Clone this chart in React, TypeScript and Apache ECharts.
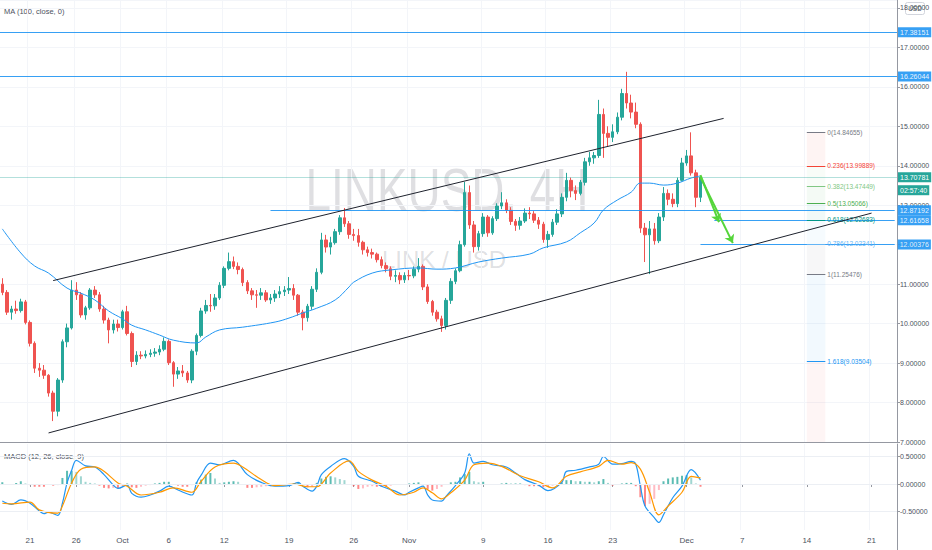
import React, { useRef, useEffect } from 'react'
import * as echarts from 'echarts'

// 12h slots starting 2020-09-18 00:00 (UTC)
const SLOT_START = Date.UTC(2020, 8, 18)
const SLOT_COUNT = 194
const LAST_SLOT = SLOT_COUNT - 1

const slotLabels: string[] = []
for (let i = 0; i < SLOT_COUNT; i++) {
  const d = new Date(SLOT_START + i * 43200000)
  slotLabels.push(d.toISOString().slice(0, 10) + (i % 2 ? ' 12' : ' 00'))
}

const dateTicks: [string, string][] = [
  ['2020-09-21', '21'], ['2020-09-26', '26'], ['2020-10-01', 'Oct'], ['2020-10-06', '6'],
  ['2020-10-12', '12'], ['2020-10-19', '19'], ['2020-10-26', '26'], ['2020-11-01', 'Nov'],
  ['2020-11-09', '9'], ['2020-11-16', '16'], ['2020-11-23', '23'], ['2020-12-01', 'Dec'],
  ['2020-12-07', '7'], ['2020-12-14', '14'], ['2020-12-21', '21']
]

const priceTicks = [7, 8, 9, 10, 11, 12, 13, 14, 15, 16, 17, 18]
const macdTicks = [-0.5, 0, 0.5]

// [open, close, low, high]
const candles: number[][] = [
  [11.00, 10.79, 10.72, 11.15], [10.79, 10.29, 10.22, 10.85], [10.29, 10.37, 10.10, 10.45], [10.37, 10.33, 10.25, 10.58],
  [10.33, 10.55, 10.28, 10.63], [10.55, 10.03, 9.98, 10.60], [10.03, 9.50, 9.42, 10.08], [9.50, 8.87, 8.75, 9.55],
  [8.87, 8.82, 8.65, 9.00], [8.82, 8.69, 8.60, 8.95], [8.69, 8.24, 8.15, 8.72], [8.24, 7.78, 7.53, 8.30],
  [7.78, 8.57, 7.65, 8.62], [8.57, 9.54, 8.50, 9.60], [9.54, 9.89, 9.40, 10.00], [9.89, 10.85, 9.85, 11.10],
  [10.85, 10.73, 10.60, 11.05], [10.73, 10.22, 10.15, 10.80], [10.22, 10.40, 10.10, 10.45], [10.40, 10.85, 10.35, 10.90],
  [10.85, 10.73, 10.65, 10.95], [10.73, 10.37, 10.30, 10.80], [10.37, 10.09, 10.00, 10.45], [10.09, 9.84, 9.50, 10.15],
  [9.84, 9.99, 9.75, 10.10], [9.99, 9.90, 9.80, 10.10], [9.90, 10.30, 9.85, 10.35], [10.30, 9.75, 9.70, 10.45],
  [9.75, 9.04, 8.90, 9.80], [9.04, 9.20, 8.95, 9.30], [9.20, 9.18, 9.10, 9.30], [9.18, 9.22, 9.12, 9.32],
  [9.22, 9.25, 9.15, 9.35], [9.25, 9.28, 9.16, 9.38], [9.28, 9.35, 9.20, 9.45], [9.35, 9.55, 9.30, 9.65],
  [9.55, 9.01, 8.95, 9.60], [9.01, 8.72, 8.40, 9.05], [8.72, 8.80, 8.60, 8.90], [8.80, 8.75, 8.65, 8.95],
  [8.75, 8.57, 8.50, 8.80], [8.57, 9.30, 8.49, 9.35], [9.30, 9.70, 9.20, 9.75], [9.70, 10.32, 9.65, 10.40],
  [10.32, 10.46, 10.25, 10.60], [10.46, 10.45, 10.30, 10.75], [10.45, 10.65, 10.35, 10.75], [10.65, 10.97, 10.60, 11.05],
  [10.97, 11.40, 10.90, 11.45], [11.40, 11.57, 11.35, 11.80], [11.57, 11.45, 11.38, 11.70], [11.45, 11.37, 11.25, 11.55],
  [11.37, 11.04, 10.95, 11.42], [11.04, 10.83, 10.75, 11.10], [10.83, 10.73, 10.60, 10.90], [10.73, 10.72, 10.40, 10.85],
  [10.72, 10.78, 10.60, 10.90], [10.78, 10.60, 10.55, 10.85], [10.60, 10.65, 10.50, 10.75], [10.65, 10.75, 10.55, 10.85],
  [10.75, 10.81, 10.65, 10.95], [10.81, 10.85, 10.70, 10.95], [10.85, 10.89, 10.75, 11.18], [10.89, 10.72, 10.60, 11.00],
  [10.72, 10.29, 10.20, 10.75], [10.29, 10.15, 9.83, 10.35], [10.15, 10.44, 10.05, 10.50], [10.44, 10.87, 10.35, 10.95],
  [10.87, 11.30, 10.80, 11.40], [11.30, 12.12, 11.25, 12.30], [12.12, 11.94, 11.80, 12.25], [11.94, 12.05, 11.75, 12.20],
  [12.05, 12.33, 12.00, 12.40], [12.33, 12.68, 12.25, 12.75], [12.68, 12.53, 12.45, 12.93], [12.53, 12.26, 12.15, 12.60],
  [12.26, 12.23, 12.10, 12.40], [12.23, 12.06, 11.95, 12.40], [12.06, 11.87, 11.75, 12.10], [11.87, 11.80, 11.70, 11.95],
  [11.80, 11.76, 11.65, 11.90], [11.76, 11.62, 11.55, 11.80], [11.62, 11.47, 11.40, 11.70], [11.47, 11.39, 11.30, 11.55],
  [11.39, 11.20, 11.10, 11.45], [11.20, 11.22, 11.05, 11.35], [11.22, 11.11, 11.00, 11.30], [11.11, 11.22, 11.03, 11.30],
  [11.22, 11.21, 11.10, 11.36], [11.21, 11.38, 11.15, 11.45], [11.38, 11.45, 11.30, 11.66], [11.45, 10.93, 10.85, 11.50],
  [10.93, 10.56, 10.50, 11.00], [10.56, 10.29, 10.20, 10.60], [10.29, 10.12, 10.05, 10.35], [10.12, 9.95, 9.79, 10.20],
  [9.95, 10.59, 9.85, 10.65], [10.59, 11.07, 10.50, 11.15], [11.07, 11.34, 11.00, 11.40], [11.34, 12.00, 11.30, 12.10],
  [12.00, 13.32, 11.95, 13.59], [13.32, 12.50, 12.40, 13.50], [12.50, 11.95, 11.80, 12.60], [11.95, 12.28, 11.85, 12.35],
  [12.28, 12.70, 12.20, 12.80], [12.70, 12.30, 12.20, 12.75], [12.30, 12.66, 12.25, 12.72], [12.66, 12.98, 12.60, 13.05],
  [12.98, 13.06, 12.90, 13.33], [13.06, 12.87, 12.80, 13.15], [12.87, 12.59, 12.50, 12.95], [12.59, 12.49, 12.35, 12.65],
  [12.49, 12.60, 12.38, 12.70], [12.60, 12.80, 12.55, 12.92], [12.80, 12.78, 12.65, 12.95], [12.78, 12.62, 12.55, 12.85],
  [12.62, 12.52, 12.40, 12.70], [12.52, 12.13, 12.05, 12.58], [12.13, 12.26, 11.92, 12.35], [12.26, 12.57, 12.20, 12.65],
  [12.57, 12.78, 12.50, 12.90], [12.78, 13.20, 12.70, 13.30], [13.20, 13.63, 13.10, 13.82], [13.63, 13.37, 13.20, 13.70],
  [13.37, 13.30, 13.13, 13.50], [13.30, 13.58, 13.25, 13.64], [13.58, 14.10, 13.50, 14.20], [14.10, 14.20, 14.00, 14.35],
  [14.20, 14.26, 14.05, 14.35], [14.26, 15.30, 14.20, 15.67], [15.30, 14.82, 14.20, 15.45], [14.82, 14.72, 14.50, 15.00],
  [14.72, 14.86, 14.60, 15.05], [14.86, 15.23, 14.80, 15.35], [15.23, 15.83, 15.15, 15.95], [15.83, 15.59, 15.45, 16.38],
  [15.59, 15.36, 15.20, 15.80], [15.36, 15.05, 14.95, 15.60], [15.05, 12.42, 12.30, 15.10], [12.42, 12.25, 11.56, 12.55],
  [12.25, 12.40, 11.25476, 12.60], [12.40, 12.10, 12.00, 12.55], [12.10, 12.70, 12.04, 12.80], [12.70, 13.30, 12.60, 13.46],
  [13.30, 13.15, 13.00, 13.40], [13.15, 13.04, 12.95, 13.30], [13.04, 13.63, 12.95, 13.70], [13.63, 14.07, 13.60, 14.20],
  [14.07, 14.25, 14.00, 14.40], [14.25, 13.82, 13.75, 14.84655], [13.82, 13.20, 12.95, 13.90], [13.20, 13.70781, 13.08, 13.75]
]

// MA(100) read at [slot, value]
const ma100: number[][] = [
  [0, 12.40], [4, 11.79], [7, 11.46], [10, 11.28], [14, 10.90], [17, 10.77], [20, 10.60], [23, 10.32],
  [26, 10.12], [28, 9.96], [31, 9.84], [34, 9.71], [37, 9.58], [42, 9.51], [44, 9.66], [47, 9.84],
  [52, 9.91], [59, 10.04], [62, 10.14], [65, 10.27], [68, 10.39], [72, 10.60], [75, 10.93], [76, 11.05],
  [80, 11.28], [84, 11.36], [90, 11.41], [94, 11.38], [98, 11.41], [103, 11.56], [108, 11.66], [114, 11.76],
  [117, 11.92], [122, 12.07], [125, 12.30], [128, 12.55], [130, 12.88], [133, 13.13], [136, 13.33], [138, 13.56],
  [140, 13.56], [143, 13.51], [146, 13.56], [149, 13.69], [151, 13.74]
]

const channelUpper: number[][] = [[11, 11.09], [156, 15.2]]
const channelLower: number[][] = [[10, 7.23], [188, 12.8]]

// horizontal levels drawn on the chart, from = first slot (null = whole width)
const hLevels: { price: number; from: number | null }[] = [
  { price: 17.38151, from: null },
  { price: 16.26044, from: null },
  { price: 12.87192, from: 58 },
  { price: 12.61658, from: 154 },
  { price: 12.00376, from: 151 }
]
const lastPrice = 13.70781
const countdown = '02:57:40'
const countdownPrice = 13.378

const fibFrom = 174
const fibTo = 178
const fibLevels: { ratio: string; price: number; color: string }[] = [
  { ratio: '0', price: 14.84655, color: '#787b86' },
  { ratio: '0.236', price: 13.99889, color: '#f44336' },
  { ratio: '0.382', price: 13.47449, color: '#81c784' },
  { ratio: '0.5', price: 13.05066, color: '#4caf50' },
  { ratio: '0.618', price: 12.62683, color: '#009688' },
  { ratio: '0.786', price: 12.02341, color: '#64b5f6' },
  { ratio: '1', price: 11.25476, color: '#787b86' },
  { ratio: '1.618', price: 9.03504, color: '#2196f3' }
]

const arrows: number[][][] = [
  [[151, 13.76], [155, 12.57]],
  [[151, 13.71], [158, 12.04]]
]

// MACD (12, 26, 9) read at [slot, value]
const macdLine: number[][] = [
  [0, -0.31], [2, -0.37], [4, -0.29], [6, -0.35], [8, -0.49], [9, -0.54], [10, -0.51], [12, -0.57], [13, -0.35],
  [14, 0.02], [15, 0.25], [16, 0.43], [18, 0.33], [20, 0.31], [22, 0.17], [24, -0.02], [25, -0.08], [27, -0.02],
  [28, -0.17], [30, -0.24], [32, -0.2], [34, -0.13], [36, -0.04], [38, -0.11], [41, -0.2], [42, 0.02], [43, 0.16],
  [45, 0.38], [47, 0.35], [50, 0.43], [51, 0.38], [53, 0.17], [56, 0.03], [59, -0.04], [62, -0.03], [64, 0.03],
  [65, -0.04], [67, -0.13], [68, -0.04], [69, 0.17], [71, 0.32], [74, 0.46], [76, 0.32], [77, 0.14], [80, 0.05],
  [82, -0.04], [85, -0.13], [87, -0.2], [88, -0.15], [90, -0.07], [91, -0.04], [92, -0.2], [93, -0.29], [95, -0.31],
  [96, -0.22], [98, -0.03], [100, 0.2], [101, 0.55], [102, 0.38], [104, 0.41], [106, 0.35], [109, 0.31], [111, 0.2],
  [113, 0.08], [116, -0.02], [118, -0.12], [121, 0.03], [122, 0.23], [124, 0.25], [127, 0.31], [129, 0.36], [130, 0.5],
  [132, 0.36], [134, 0.37], [136, 0.41], [137, 0.36], [138, -0.04], [139, -0.4], [141, -0.61], [142, -0.7], [143, -0.56],
  [145, -0.25], [147, -0.04], [149, 0.26], [151, 0.07]
]
const signalLine: number[][] = [
  [0, -0.35], [2, -0.36], [6, -0.33], [8, -0.47], [12, -0.53], [13, -0.4], [15, 0.02], [17, 0.27], [20, 0.31],
  [22, 0.23], [25, 0.02], [27, -0.04], [30, -0.2], [34, -0.15], [37, -0.07], [41, -0.15], [43, 0.05], [46, 0.31],
  [50, 0.38], [52, 0.31], [56, 0.08], [59, -0.03], [63, 0.0], [66, -0.05], [68, -0.05], [71, 0.2], [75, 0.42],
  [77, 0.23], [80, 0.07], [83, -0.04], [86, -0.2], [89, -0.15], [91, -0.07], [93, -0.16], [95, -0.27], [97, -0.16],
  [100, 0.07], [102, 0.35], [105, 0.38], [108, 0.32], [112, 0.15], [116, 0.04], [119, -0.07], [122, 0.14], [125, 0.22],
  [129, 0.32], [131, 0.43], [134, 0.36], [136, 0.39], [138, 0.27], [140, -0.15], [142, -0.56], [144, -0.4], [147, -0.15],
  [149, 0.14], [151, 0.11]
]
const macdHist: number[] = [
  0.03, -0.01, -0.01, 0.02, 0.05, 0.01, -0.02, -0.05, -0.05, -0.05, -0.01, -0.03, -0.02, 0.11, 0.24, 0.24,
  0.22, 0.14, 0.04, 0.02, 0.01, -0.03, -0.07, -0.08, -0.07, -0.08, -0.04, 0.01, -0.06, -0.07, -0.05, -0.03,
  -0.02, 0.01, 0.02, 0.04, 0.04, -0.01, -0.03, -0.05, -0.05, -0.02, 0.03, 0.08, 0.17, 0.2, 0.1, 0.02,
  0.03, 0.04, 0.05, 0.04, -0.01, -0.07, -0.07, -0.06, -0.05, -0.04, -0.04, -0.02, -0.01, -0.02, -0.02, 0.01,
  0.03, -0.01, -0.06, -0.05, 0.02, 0.1, 0.13, 0.14, 0.12, 0.09, 0.07, -0.01, -0.04, -0.09, -0.08, -0.05,
  -0.04, -0.05, -0.05, -0.05, -0.03, 0.0, 0.0, -0.01, 0.01, 0.02, 0.03, -0.01, -0.09, -0.12, -0.09, -0.05,
  0.0, 0.03, 0.04, 0.12, 0.18, 0.22, 0.05, 0.03, 0.04, 0.0, -0.01, 0.0, 0.01, 0.02, 0.01, 0.01,
  0.01, -0.02, -0.04, -0.04, -0.04, -0.06, -0.04, -0.03, -0.01, 0.03, 0.07, 0.07, 0.05, 0.05, 0.04, 0.04,
  0.03, 0.05, 0.09, 0.02, -0.03, -0.01, 0.01, 0.02, 0.02, -0.04, -0.24, -0.4, -0.36, -0.27, -0.11, 0.05,
  0.1, 0.12, 0.13, 0.15, 0.16, 0.12, 0.01, -0.05
]

const FONT = '"Liberation Sans", Arial, sans-serif'
const TXT = '#4c525e'
const AXIS = '#9598a1'
const GRID = '#f3f5f9'
const BLUE = '#2196f3'
const UP = '#26a69a'
const DOWN = '#ef5350'

const tickText: Record<string, string> = {}
dateTicks.forEach(([d, t]) => { tickText[d + ' 00'] = t })
const isTick = (_i: number, v: string) => v in tickText

const App: React.FC = () => {
  const chartRef = useRef<HTMLDivElement>(null)

  useEffect(() => {
    if (!chartRef.current) return
    const chart = echarts.init(chartRef.current, undefined, { renderer: 'svg' })

    const levelLabel = (text: string, bg: string, distance: number) => ({
      show: true,
      position: 'end',
      formatter: text,
      color: '#ffffff',
      backgroundColor: bg,
      padding: [2, 2, 1, 2],
      fontSize: 7,
      fontFamily: FONT,
      distance
    })

    const levelLines: any[] = hLevels.map(l => {
      const lineStyle = { color: BLUE, width: 1, type: 'solid', opacity: 0.9 }
      if (l.from == null) {
        return { yAxis: l.price, lineStyle, label: levelLabel(l.price.toFixed(5), BLUE, 1) }
      }
      return [
        { coord: [l.from, l.price], lineStyle, label: levelLabel(l.price.toFixed(5), BLUE, 3) },
        { coord: [LAST_SLOT, l.price] }
      ]
    })
    levelLines.push({
      yAxis: lastPrice,
      lineStyle: { color: 'rgba(38,166,154,0.35)', width: 1, type: 'solid' },
      label: levelLabel(lastPrice.toFixed(5), UP, 1)
    })
    levelLines.push({
      yAxis: countdownPrice,
      lineStyle: { color: 'rgba(0,0,0,0)', width: 0 },
      label: levelLabel(countdown, UP, 1)
    })

    const fibLines = fibLevels.map(f => [
      {
        coord: [fibFrom, f.price],
        lineStyle: { color: f.color, width: 1, type: 'solid' },
        label: {
          show: true,
          position: 'end',
          formatter: `${f.ratio}(${f.price.toFixed(5)})`,
          color: f.color,
          fontSize: 6.5,
          fontFamily: FONT,
          padding: [0, 0, 8, 0],
          distance: 2
        }
      },
      { coord: [fibTo, f.price] }
    ])

    const fibBands: any[] = fibLevels.slice(1).map((f, i) => [
      { coord: [fibFrom, fibLevels[i].price], itemStyle: { color: f.color, opacity: 0.06 } },
      { coord: [fibTo, f.price] }
    ])
    fibBands.push([
      { coord: [fibFrom, 9.03504], itemStyle: { color: '#f44336', opacity: 0.05 } },
      { coord: [fibTo, priceTicks[0]] }
    ])

    const arrowLines = arrows.map(a => [
      { coord: a[0], symbol: 'none', lineStyle: { color: '#55d53a', width: 2, type: 'solid' }, label: { show: false } },
      { coord: a[1], symbol: 'arrow', symbolSize: 8 }
    ])

    const option = {
      animation: false,
      backgroundColor: '#ffffff',
      textStyle: { fontFamily: FONT },
      grid: [
        { left: 0, right: 35, top: 0, height: 442, outerBoundsMode: 'none' },
        { left: 0, right: 35, top: 444, height: 86, outerBoundsMode: 'none' }
      ],
      xAxis: [
        {
          type: 'category',
          gridIndex: 0,
          data: slotLabels,
          boundaryGap: true,
          axisLine: { show: true, lineStyle: { color: AXIS } },
          axisTick: { show: false },
          axisLabel: { show: false },
          splitLine: { show: true, interval: isTick, lineStyle: { color: GRID } }
        },
        {
          type: 'category',
          gridIndex: 1,
          data: slotLabels,
          boundaryGap: true,
          axisLine: { show: true, lineStyle: { color: AXIS } },
          axisTick: { show: true, interval: isTick, alignWithLabel: true, length: 3, lineStyle: { color: AXIS } },
          axisLabel: {
            show: true,
            interval: isTick,
            formatter: (v: string) => tickText[v] || '',
            fontSize: 8,
            color: TXT,
            margin: 6
          },
          splitLine: { show: true, interval: isTick, lineStyle: { color: GRID } }
        }
      ],
      yAxis: [
        {
          type: 'value',
          gridIndex: 0,
          position: 'right',
          min: priceTicks[0],
          max: 18.2,
          interval: 1,
          axisLine: { show: true, lineStyle: { color: AXIS } },
          axisTick: { show: true, length: 3, lineStyle: { color: AXIS } },
          axisLabel: {
            showMaxLabel: false,
            fontSize: 7,
            color: TXT,
            margin: 3,
            formatter: (v: number) => v.toFixed(5)
          },
          splitLine: { show: true, lineStyle: { color: GRID } }
        },
        {
          type: 'value',
          gridIndex: 1,
          position: 'right',
          min: -0.836,
          max: 0.727,
          axisLine: { show: true, lineStyle: { color: AXIS } },
          axisTick: { show: true, length: 3, customValues: macdTicks, lineStyle: { color: AXIS } },
          axisLabel: {
            customValues: macdTicks,
            fontSize: 7,
            color: TXT,
            margin: 3,
            formatter: (v: number) => v.toFixed(5)
          },
          splitLine: { show: false }
        }
      ],
      series: [
        {
          name: 'LINKUSD',
          type: 'candlestick',
          xAxisIndex: 0,
          yAxisIndex: 0,
          data: candles,
          barWidth: 3,
          itemStyle: { color: UP, color0: DOWN, borderColor: UP, borderColor0: DOWN, borderWidth: 1 },
          markLine: {
            silent: true,
            symbol: ['none', 'none'],
            animation: false,
            data: [...levelLines, ...fibLines, ...arrowLines]
          },
          markArea: {
            silent: true,
            animation: false,
            data: fibBands
          },
          z: 3
        },
        {
          name: 'MA (100, close, 0)',
          type: 'line',
          xAxisIndex: 0,
          yAxisIndex: 0,
          data: ma100,
          smooth: 0.4,
          symbol: 'none',
          lineStyle: { color: BLUE, width: 1 },
          z: 4
        },
        {
          name: 'channel upper',
          type: 'line',
          xAxisIndex: 0,
          yAxisIndex: 0,
          data: channelUpper,
          symbol: 'none',
          lineStyle: { color: '#1e222d', width: 1 },
          z: 5
        },
        {
          name: 'channel lower',
          type: 'line',
          xAxisIndex: 0,
          yAxisIndex: 0,
          data: channelLower,
          symbol: 'none',
          lineStyle: { color: '#1e222d', width: 1 },
          z: 5
        },
        {
          name: 'Histogram',
          type: 'bar',
          xAxisIndex: 1,
          yAxisIndex: 1,
          data: macdHist,
          barWidth: 2,
          itemStyle: {
            color: (p: any) => {
              const v = macdHist[p.dataIndex]
              const prev = p.dataIndex > 0 ? macdHist[p.dataIndex - 1] : v
              if (v >= 0) return v >= prev ? 'rgba(38,166,154,0.75)' : 'rgba(150,210,204,0.9)'
              return v <= prev ? 'rgba(255,82,82,0.7)' : 'rgba(255,180,188,0.9)'
            }
          },
          markLine: {
            silent: true,
            symbol: ['none', 'none'],
            animation: false,
            label: { show: false },
            lineStyle: { color: '#eceff4', width: 1, type: 'solid' },
            data: macdTicks.map(v => ({ yAxis: v }))
          }
        },
        {
          name: 'MACD',
          type: 'line',
          xAxisIndex: 1,
          yAxisIndex: 1,
          data: macdLine,
          smooth: 0.35,
          symbol: 'none',
          lineStyle: { color: BLUE, width: 1.2 }
        },
        {
          name: 'Signal',
          type: 'line',
          xAxisIndex: 1,
          yAxisIndex: 1,
          data: signalLine,
          smooth: 0.35,
          symbol: 'none',
          lineStyle: { color: '#ff9800', width: 1.2 }
        }
      ],
      graphic: [
        {
          type: 'text',
          x: 447,
          y: 190,
          scaleX: 0.74,
          silent: true,
          z: 0,
          style: {
            text: 'LINKUSD, 4H',
            x: 0,
            y: 0,
            align: 'center',
            verticalAlign: 'middle',
            fontSize: 62,
            fontFamily: FONT,
            fill: 'rgba(120,123,134,0.24)'
          }
        },
        {
          type: 'text',
          x: 444,
          y: 259,
          silent: true,
          z: 0,
          style: {
            text: 'LINK / USD',
            x: 0,
            y: 0,
            align: 'center',
            verticalAlign: 'middle',
            fontSize: 24,
            fontFamily: FONT,
            fill: 'rgba(120,123,134,0.24)'
          }
        },
        {
          type: 'text',
          left: 4,
          top: 7,
          style: { text: 'MA (100, close, 0)', fontSize: 7.5, fontFamily: FONT, fill: TXT }
        },
        {
          type: 'text',
          left: 4,
          top: 452,
          style: { text: 'MACD (12, 26, close, 9)', fontSize: 7.5, fontFamily: FONT, fill: TXT }
        },
        {
          type: 'group',
          left: 905,
          top: 2,
          z: 100,
          children: [
            { type: 'rect', shape: { x: 0, y: 0, width: 19, height: 12, r: 2 }, style: { fill: '#ffffff', stroke: '#d1d4dc' } },
            { type: 'text', style: { text: 'USD', x: 9.5, y: 6, align: 'center', verticalAlign: 'middle', fontSize: 6.5, fontFamily: FONT, fill: TXT } }
          ]
        },
        {
          type: 'line',
          shape: { x1: 897.5, y1: 530, x2: 897.5, y2: 550 },
          style: { stroke: AXIS, lineWidth: 1 }
        }
      ]
    }

    chart.setOption(option as any)
    return () => {
      chart.dispose()
    }
  }, [])

  return (
    <div
      ref={chartRef}
      style={{ position: 'absolute', left: 0, top: 0, width: 932, height: 550, background: '#ffffff' }}
    />
  )
}

export default App
